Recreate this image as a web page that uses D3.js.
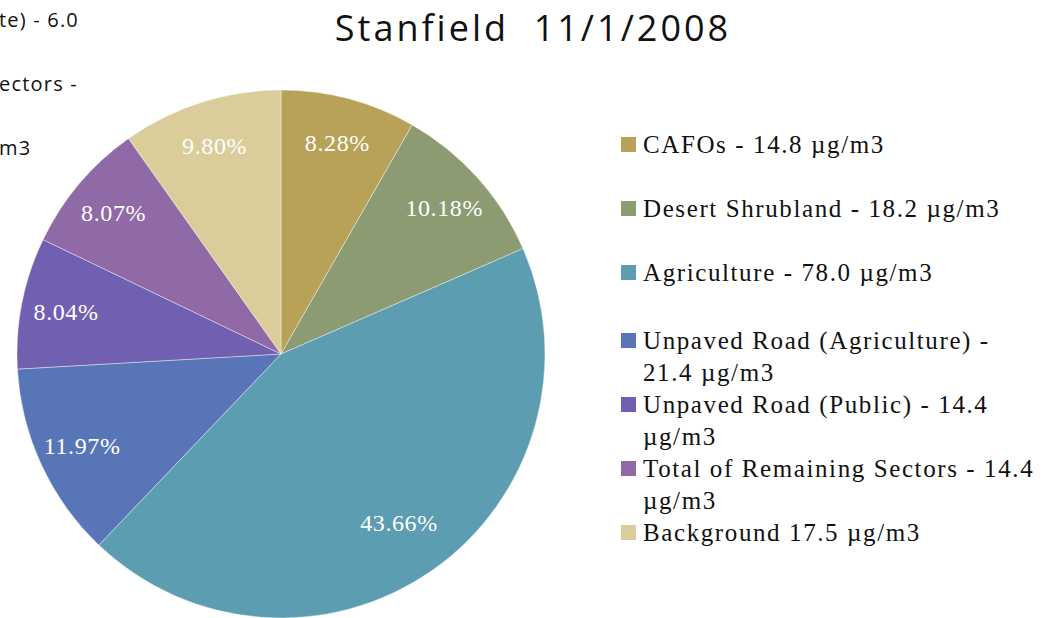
<!DOCTYPE html>
<html>
<head>
<meta charset="utf-8">
<script src="https://cdn.jsdelivr.net/npm/d3@7"></script>
<style>
  body { margin: 0; background: #fff; }
  svg { display: block; }
</style>
</head>
<body>
<div id="chart"></div>
<script>
// values
var categories = ["CAFOs", "Desert Shrubland", "Agriculture", "Unpaved Road (Agriculture)",
                  "Unpaved Road (Public)", "Total of Remaining Sectors", "Background"];
var percents = [8.28, 10.18, 43.66, 11.97, 8.04, 8.07, 9.80];
var legendLines = [
  ["CAFOs - 14.8 \u00b5g/m3"],
  ["Desert Shrubland - 18.2 \u00b5g/m3"],
  ["Agriculture - 78.0 \u00b5g/m3"],
  ["Unpaved Road (Agriculture) -", "21.4 \u00b5g/m3"],
  ["Unpaved Road (Public) - 14.4", "\u00b5g/m3"],
  ["Total of Remaining Sectors - 14.4", "\u00b5g/m3"],
  ["Background 17.5 \u00b5g/m3"]
];
var colors = ["#b8a257", "#8c9b72", "#5c9db2", "#5876b7", "#715fb2", "#8f6aa7", "#dacd9b"];
// fragments of a neighbouring chart's legend, cut off at the left edge
var cutText = ["te) - 6.0", "ectors -", "m3"];

var width = 1049, height = 618;
var cx = 281, cy = 354, radius = 264;

var svg = d3.select("#chart").append("svg")
    .attr("width", width)
    .attr("height", height);

var color = d3.scaleOrdinal(categories, colors);

var pie = d3.pie().sort(null).value(function(d) { return d.p; });
var data = categories.map(function(c, i) { return {name: c, p: percents[i]}; });
var arcs = pie(data);

var arc = d3.arc().innerRadius(0).outerRadius(radius);
var labelArc = d3.arc().innerRadius(radius * 0.83).outerRadius(radius * 0.83);
var bigLabelArc = d3.arc().innerRadius(radius * 0.78).outerRadius(radius * 0.78);

var g = svg.append("g").attr("transform", "translate(" + cx + "," + cy + ")");

g.selectAll("path").data(arcs).join("path")
    .attr("d", arc)
    .attr("fill", function(d) { return color(d.data.name); })
    .attr("stroke", "#fff")
    .attr("stroke-opacity", 0.5)
    .attr("stroke-width", 0.8);

g.selectAll("text.pct").data(arcs).join("text")
    .classed("pct", true)
    .attr("transform", function(d) {
      var a = d.data.p > 30 ? bigLabelArc : labelArc;
      return "translate(" + a.centroid(d) + ")";
    })
    .attr("text-anchor", "middle")
    .attr("dy", "0.35em")
    .style("font-family", "'Liberation Serif', serif")
    .style("font-size", "24px")
    .style("letter-spacing", "0.6px")
    .attr("fill", "#fff")
    .text(function(d) { return d.data.p.toFixed(2) + "%"; });

// title
svg.append("text")
    .attr("x", 533)
    .attr("y", 41)
    .attr("text-anchor", "middle")
    .style("font-family", "'Open Sans', sans-serif")
    .style("font-size", "36px")
    .style("letter-spacing", "3px")
    .attr("fill", "#111")
    .attr("xml:space", "preserve")
    .text("Stanfield  11/1/2008");

// cut-off text top left
svg.selectAll("text.cut").data(cutText).join("text")
    .classed("cut", true)
    .attr("x", -1)
    .attr("y", function(d, i) { return 27 + i * 64; })
    .style("font-family", "'Open Sans', sans-serif")
    .style("font-size", "20px")
    .style("letter-spacing", "1.2px")
    .attr("fill", "#111")
    .text(function(d) { return d; });

// legend
var rowTops = [137, 201, 265, 333, 397, 461, 525];
var legend = svg.append("g");
var items = legend.selectAll("g").data(categories).join("g")
    .attr("transform", function(d, i) { return "translate(621," + rowTops[i] + ")"; });

items.append("rect")
    .attr("width", 15)
    .attr("height", 15)
    .attr("fill", function(d) { return color(d); });

items.append("text")
    .attr("x", 22)
    .attr("y", 16)
    .style("font-family", "'Liberation Serif', serif")
    .style("font-size", "25px")
    .style("letter-spacing", "1.6px")
    .attr("fill", "#111")
    .selectAll("tspan")
    .data(function(d, i) { return legendLines[i]; })
    .join("tspan")
    .attr("x", 22)
    .attr("dy", function(d, j) { return j === 0 ? 0 : 32; })
    .text(function(d) { return d; });
</script>
</body>
</html>
